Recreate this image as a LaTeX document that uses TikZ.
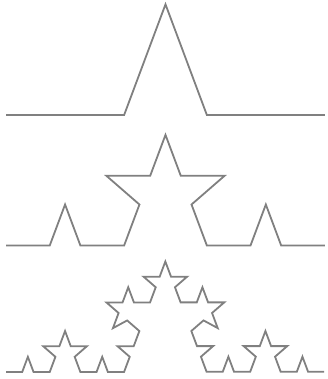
\documentclass[tikz,border=0pt]{standalone}
\usetikzlibrary{lindenmayersystems}

\pgfdeclarelindenmayersystem{bump}{
  \rule{F -> F+F--F+F}
}

\begin{document}
\begin{tikzpicture}[
      x=1pt, y=1pt,
      curve/.style={draw=black!50, line width=1.8pt, line join=miter},
    ]
    \useasboundingbox (0,0) rectangle (327,379);

    % first step
    \begin{scope}[shift={(6,264)}]
      \draw[curve, lindenmayer system={bump, axiom=F, order=1, step=118.13pt, angle=69.5}]
        lindenmayer system;
    \end{scope}

    % second step
    \begin{scope}[shift={(6,133.5)}]
      \draw[curve, lindenmayer system={bump, axiom=F, order=2, step=43.75pt, angle=69.5}]
        lindenmayer system;
    \end{scope}

    % third step
    \begin{scope}[shift={(6,7)}]
      \draw[curve, lindenmayer system={bump, axiom=F, order=3, step=16.20pt, angle=69.5}]
        lindenmayer system;
    \end{scope}
  \end{tikzpicture}
\end{document}
